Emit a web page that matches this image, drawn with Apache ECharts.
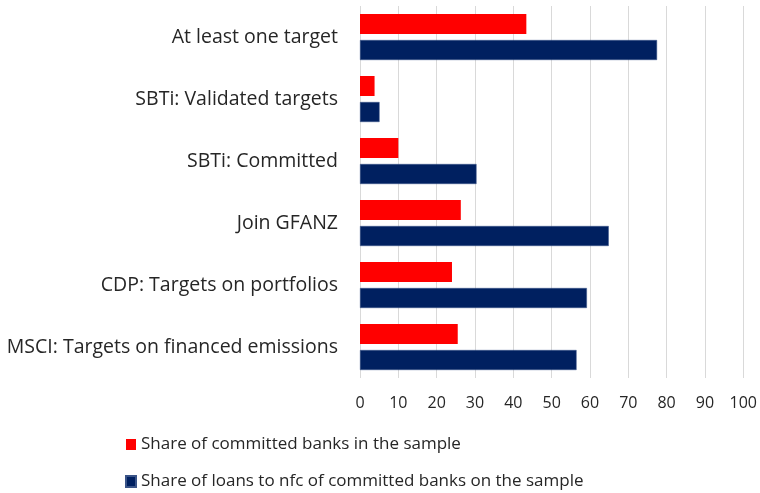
<!DOCTYPE html>
<html>
<head>
<meta charset="utf-8">
<script src="https://cdn.jsdelivr.net/npm/echarts@6/dist/echarts.min.js"></script>
<style>
  html, body { margin: 0; padding: 0; background: #fff; }
  #chart { width: 760px; height: 493px; }
</style>
</head>
<body>
<div id="chart"></div>
<script>
const categories = [
  'At least one target',
  'SBTi: Validated targets',
  'SBTi: Committed',
  'Join GFANZ',
  'CDP: Targets on portfolios',
  'MSCI: Targets on financed emissions'
];
const shareBanks = [43.4, 3.8, 10.0, 26.3, 24.0, 25.5];
const shareLoans = [77.5, 5.1, 30.4, 64.9, 59.2, 56.5];
const seriesNames = [
  'Share of committed banks in the sample',
  'Share of loans to nfc of committed banks on the sample'
];

const font = 'Open Sans';
const textColor = '#262626';

const chart = echarts.init(document.getElementById('chart'));
const options = {
  animation: false,
  textStyle: { fontFamily: font },
  grid: { left: 360, right: 15, top: 6, bottom: 115 },
  legend: {
    orient: 'vertical',
    left: 125,
    top: 436,
    padding: 0,
    itemWidth: 10,
    itemHeight: 11,
    itemGap: 20,
    icon: 'rect',
    textStyle: { fontFamily: font, fontSize: 17, color: textColor },
    data: seriesNames
  },
  xAxis: {
    type: 'value',
    min: 0,
    max: 100,
    interval: 10,
    axisLine: { show: false },
    axisTick: { show: false },
    splitLine: { lineStyle: { color: '#d9d9d9', width: 1 } },
    axisLabel: { fontFamily: font, fontSize: 16, color: textColor, margin: 17 }
  },
  yAxis: {
    type: 'category',
    inverse: true,
    data: categories,
    axisLine: { show: false },
    axisTick: { show: false },
    axisLabel: { fontFamily: font, fontSize: 19.5, color: textColor, margin: 22 }
  },
  series: [
    {
      name: seriesNames[0],
      type: 'bar',
      data: shareBanks,
      barWidth: 20,
      barGap: '30%',
      itemStyle: { color: '#ff0000' }
    },
    {
      name: seriesNames[1],
      type: 'bar',
      data: shareLoans,
      barWidth: 20,
      barGap: '30%',
      itemStyle: { color: '#002060', borderColor: '#3a5488', borderWidth: 0.5 }
    }
  ]
};
options && chart.setOption(options);
</script>
</body>
</html>
